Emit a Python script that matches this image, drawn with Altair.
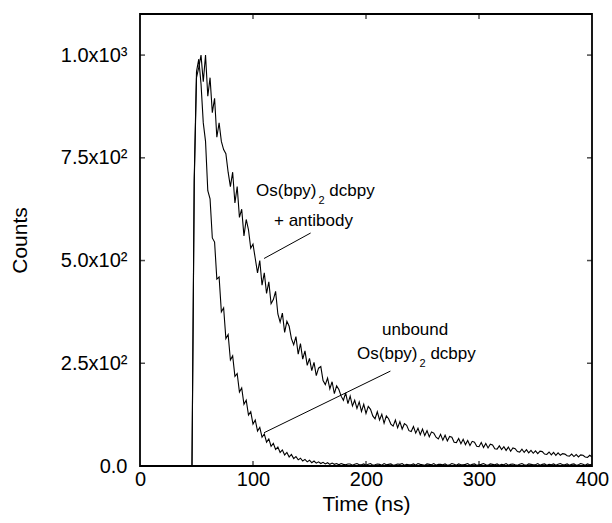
import altair as alt
import pandas as pd

# ---- data ----
time_ns = [0] + list(range(44, 401, 2))

antibody_counts = [
    0, 0, 0,
    690, 945, 970, 1000, 935, 1000, 900, 945, 860, 895,   # 48-66
    800, 835, 790, 770, 760, 715, 680, 715, 640, 680,     # 68-86
    605, 625, 560, 600, 575, 530, 540, 505, 470, 500,     # 88-106
    440, 470, 420, 448, 395, 405, 425, 370, 350, 372,     # 108-126
    325, 352, 340, 310, 295, 315, 272, 298, 260, 280,     # 128-146
    245, 262, 232, 252, 220, 238, 242, 208, 198, 214,     # 148-166
    188, 205, 176, 195, 186, 170, 160, 178, 152, 170,     # 168-186
    146, 160, 140, 156, 133, 150, 128, 145, 138, 122,     # 188-206
    115, 132, 112, 126, 104, 122, 115, 102, 97, 112,      # 208-226
    93, 108, 90, 103, 99, 86, 84, 96, 80, 92,             # 228-246
    76, 90, 74, 86, 71, 83, 80, 70, 66, 77,               # 248-266
    63, 75, 61, 72, 70, 58, 57, 67, 54, 65,               # 268-286
    52, 62, 50, 60, 58, 48, 47, 57, 45, 55,               # 288-306
    44, 53, 51, 42, 41, 49, 40, 47, 38, 46,               # 308-326
    36, 44, 42, 35, 34, 41, 33, 40, 32, 38,               # 328-346
    31, 37, 30, 36, 35, 29, 28, 34, 27, 33,               # 348-366
    26, 32, 26, 30, 29, 25, 24, 29, 23, 28,               # 368-386
    22, 27, 26, 22, 21, 26, 22,                           # 388-400
]

unbound_counts = [
    0, 0, 0,
    700, 960, 990, 930, 835, 790, 670, 650, 555, 545,     # 48-66
    455, 460, 375, 385, 310, 320, 258, 268, 218, 225,     # 68-86
    180, 190, 150, 160, 124, 132, 102, 112, 85, 94,       # 88-106
    70, 78, 58, 66, 48, 55, 40, 46, 33, 39,               # 108-126
    27, 33, 22, 28, 18, 23, 15, 19, 12, 16,               # 128-146
    10, 14, 8, 12, 7, 10, 6, 9, 5, 8,                     # 148-166
    4, 7, 4, 6, 3, 6, 4,                                  # 168-180
    3, 5, 5, 2, 4, 6, 3, 3, 5, 2,
    4, 6, 2, 3, 5, 4, 2, 6, 3, 4,
    5, 2, 3, 5, 4, 6, 2, 4, 3, 3,
    5, 2, 6, 4, 3, 2, 5, 4, 3, 6,
    2, 4, 4, 3, 5, 2, 3, 6, 4, 2,
    5, 3, 3, 4, 6, 2, 4, 5, 2, 3,
    4, 6, 3, 2, 5, 4, 3, 5, 2, 4,
    3, 6, 2, 4, 5, 3, 2, 4, 6, 3,
    2, 5, 4, 3, 3, 6, 2, 4, 5, 2,
    4, 3, 5, 2, 4, 6, 3, 3, 5, 2,
    4, 5, 2, 3, 6, 4, 2, 5, 3, 4,
]

x_tick_values = [0, 100, 200, 300, 400]
y_tick_values = [0, 250, 500, 750, 1000]
y_tick_labels = ["0.0", "2.5x10\u00b2", "5.0x10\u00b2", "7.5x10\u00b2", "1.0x10\u00b3"]

# annotation texts (data coordinates)
ann_text = ["Os(bpy)", "2", "dcbpy", "+ antibody", "unbound", "Os(bpy)", "2", "dcbpy"]
ann_t = [102.7, 158.0, 167.5, 118.6, 214.2, 192.1, 247.3, 257.0]
ann_v = [658, 638, 658, 584, 320, 259.6, 241, 259.6]
ann_size = [17, 11, 17, 17, 17, 17, 11, 17]

lead_t1 = [151.0, 221.6]
lead_v1 = [567, 231]
lead_t2 = [109.8, 109.8]
lead_v2 = [505, 81]

W, H = 452, 452
FONT = "Liberation Sans"

df = pd.DataFrame({
    "t": time_ns * 2,
    "v": antibody_counts + unbound_counts,
    "series": ["antibody"] * len(time_ns) + ["unbound"] * len(time_ns),
})

xscale = alt.Scale(domain=[0, 400], nice=False, zero=False)
yscale = alt.Scale(domain=[0, 1100], nice=False)

label_expr = " : ".join(
    f"datum.value == {v} ? '{l}'" for v, l in zip(y_tick_values, y_tick_labels)
) + " : ''"

lines = alt.Chart(df).mark_line(color="black", strokeWidth=1.1).encode(
    x=alt.X("t:Q", scale=xscale, title="Time (ns)",
            axis=alt.Axis(values=x_tick_values, format="d", ticks=False, domain=False,
                          grid=False, labelFontSize=20, labelFont=FONT, labelColor="black",
                          labelPadding=3, labelFlush=False, titleFontSize=21, titleFont=FONT,
                          titleFontWeight="normal", titleColor="black", titlePadding=4)),
    y=alt.Y("v:Q", scale=yscale, title="Counts",
            axis=alt.Axis(values=y_tick_values, labelExpr=label_expr, ticks=False, domain=False,
                          grid=False, labelFontSize=20, labelFont=FONT, labelColor="black",
                          labelPadding=13, titleFontSize=21, titleFont=FONT,
                          titleFontWeight="normal", titleColor="black", titlePadding=30)),
    detail="series:N",
)

xt = pd.DataFrame({"t": x_tick_values[1:-1]})
yt = pd.DataFrame({"v": y_tick_values[1:]})

# inward ticks on all four sides (centred on the frame, clipped to the plot area)
xticks_bottom = alt.Chart(xt).mark_tick(color="black", thickness=1.5, size=10, orient="vertical", clip=True).encode(
    x=alt.X("t:Q", scale=xscale), y=alt.Y("v0:Q", scale=yscale)).transform_calculate(v0="0")
xticks_top = alt.Chart(xt).mark_tick(color="black", thickness=1.5, size=10, orient="vertical", clip=True).encode(
    x=alt.X("t:Q", scale=xscale), y=alt.Y("v1:Q", scale=yscale)).transform_calculate(v1="1100")
yticks_left = alt.Chart(yt).mark_tick(color="black", thickness=1.5, size=10, orient="horizontal", clip=True).encode(
    y=alt.Y("v:Q", scale=yscale), x=alt.X("t0:Q", scale=xscale)).transform_calculate(t0="0")
yticks_right = alt.Chart(yt).mark_tick(color="black", thickness=1.5, size=10, orient="horizontal", clip=True).encode(
    y=alt.Y("v:Q", scale=yscale), x=alt.X("t1:Q", scale=xscale)).transform_calculate(t1="400")

ann = pd.DataFrame({"text": ann_text, "t": ann_t, "v": ann_v, "size": ann_size})
texts = alt.Chart(ann).mark_text(align="left", baseline="alphabetic", font=FONT, color="black").encode(
    x=alt.X("t:Q", scale=xscale),
    y=alt.Y("v:Q", scale=yscale),
    text="text:N",
    size=alt.Size("size:Q", scale=None, legend=None),
)

leads = pd.DataFrame({"t1": lead_t1, "v1": lead_v1, "t2": lead_t2, "v2": lead_v2})
leaders = alt.Chart(leads).mark_rule(color="black", strokeWidth=1).encode(
    x=alt.X("t1:Q", scale=xscale), y=alt.Y("v1:Q", scale=yscale),
    x2="t2:Q", y2="v2:Q",
)

chart = alt.layer(
    lines, xticks_bottom, xticks_top, yticks_left, yticks_right, texts, leaders
).properties(
    width=W, height=H,
    autosize=alt.AutoSizeParams(type="none"),
    padding={"left": 140, "top": 14, "right": 20, "bottom": 57},
    background="white",
).configure_view(stroke="black", strokeWidth=1.8, strokeOpacity=1)

chart.save("out.html", embed_options={"renderer": "svg", "actions": False})
